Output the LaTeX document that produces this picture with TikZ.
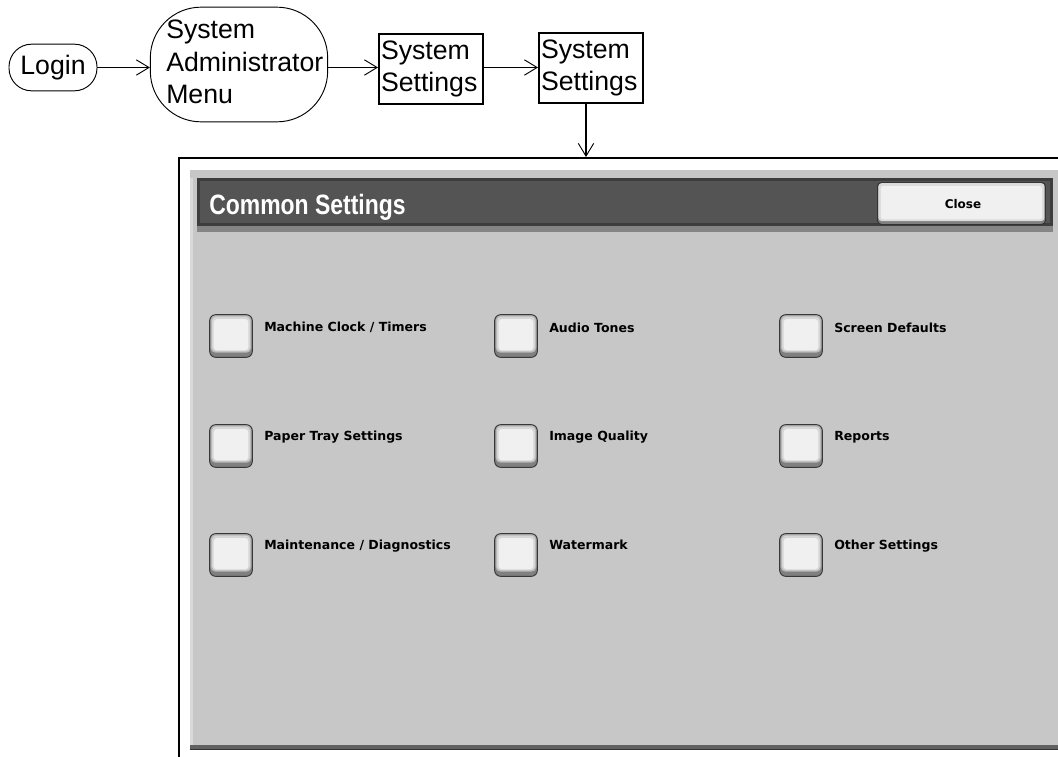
\documentclass[tikz,border=0pt]{standalone}
\usepackage{fontspec}
\setmainfont{Liberation Sans}
\newfontfamily\uifont{DejaVu Sans}
\usetikzlibrary{arrows.meta,positioning}
\definecolor{panelgrey}{gray}{0.78}
\definecolor{bardark}{gray}{0.33}
\definecolor{barrim}{gray}{0.24}
\definecolor{keylight}{gray}{0.94}
\tikzset{
  x=0.75pt,y=-0.75pt,
  flow/.style={draw=black,line width=1.1pt,-{Straight Barb[length=9.5pt,width=11.5pt,line width=0.7pt]}},
  pill/.style={draw=black,line width=0.7pt,align=left,inner sep=0pt,font=\fontsize{20}{24}\selectfont},
  sqbox/.style={draw=black,line width=1.5pt,align=left,inner sep=0pt,font=\fontsize{20}{24.5}\selectfont},
  keyshape/.style={draw=black!78,line width=0.7pt,fill=black!50,rounded corners=4.5pt,minimum width=32pt,minimum height=32pt,inner sep=0pt},
  keyrim/.style={fill=black!28,rounded corners=3.5pt,minimum width=30.5pt,minimum height=28pt,inner sep=0pt},
  keymid/.style={fill=black!16,rounded corners=3pt,minimum width=28.5pt,minimum height=26pt,inner sep=0pt},
  keyface/.style={fill=keylight,rounded corners=2.5pt,minimum width=26pt,minimum height=23.5pt,inner sep=0pt},
  keylabel/.style={anchor=west,inner sep=0pt,text=black,font=\uifont\bfseries\fontsize{9.4}{11}\selectfont},
}
\begin{document}
\begin{tikzpicture}
\useasboundingbox (0,0) rectangle (1058,757);
\clip (0,0) rectangle (1058,757);
\fill[white] (0,0) rectangle (1058,757);
% panel
\node[draw=black,line width=1.5pt,minimum width=660pt,minimum height=600pt,anchor=north west,inner sep=0pt] (panel) at (178,157) {};
\fill[panelgrey] (190,170) rectangle (1058,749);
\fill[black!15] (190,170) rectangle (193,749);
\fill[black!62] (190,745) rectangle (1058,749);
\fill[black!80] (190,749) rectangle (1058,750);
\fill[black!22] (190,170) rectangle (1058,178);
\fill[barrim] (197,178) rectangle (1053,226);
\fill[bardark] (200,181) rectangle (1050,223);
\fill[black!48] (197,226) rectangle (1053,232);
\node[anchor=west,inner sep=0pt,text=white] (title) at (209,207) {\scalebox{0.82}[1]{\fontsize{21}{24}\selectfont\bfseries Common Settings}};
\node[draw=black!80,line width=0.7pt,fill=black!50,rounded corners=3pt,minimum width=126pt,minimum height=31.5pt,inner sep=0pt,anchor=north west] (closekey) at (877,182) {};
\node[fill=black!14,rounded corners=2.5pt,minimum width=124.5pt,minimum height=28.5pt,inner sep=0pt] (closerim) at ([yshift=1pt]closekey.center) {};
\node[fill=keylight,rounded corners=2pt,minimum width=121pt,minimum height=25pt,inner sep=0pt] (closeface) at ([yshift=0.6pt]closekey.center) {};
\node[inner sep=0pt,font=\uifont\bfseries\fontsize{9}{10}\selectfont] (closelabel) at (963,204) {Close};
% keys
\foreach \kx/\ky/\kname/\kup/\ktext in {
  231/336/ka/6.4/{Machine Clock / Timers},
  516/336/kb/6.4/{Audio Tones},
  801/336/kc/6.4/{Screen Defaults},
  231/446/kd/6.4/{Paper Tray Settings},
  516/446/ke/6.4/{Image Quality},
  801/446/kf/6.4/{Reports},
  231/555/kg/6.4/{Maintenance / Diagnostics},
  516/555/kh/8/{Watermark},
  801/555/ki/6.4/{Other Settings}}{
  \node[keyshape] (\kname) at (\kx,\ky) {};
  \node[keyrim] (\kname r) at ([yshift=1.5pt]\kname.center) {};
  \node[keymid] (\kname m) at ([yshift=1.5pt]\kname.center) {};
  \node[keyface] (\kname f) at ([yshift=1pt]\kname.center) {};
  \node[keylabel] (\kname t) at ([xshift=24.75pt,yshift=\kup pt]\kname.center) {\ktext};
}
% flow
\node[pill,rounded corners=17pt,minimum width=66pt,minimum height=35pt] (login) at (53,67.5) {Login};
\node[draw=black,line width=0.7pt,rounded corners=38pt,minimum width=133pt,minimum height=86pt,inner sep=0pt] (admin) at (239,64.5) {};
\node[align=left,inner sep=0pt,font=\fontsize{20}{24}\selectfont,text width=117pt,anchor=west] (admintext) at (166,62) {System\\[0.5pt]Administrator\\[0.5pt]Menu};
\node[sqbox,minimum width=78pt,minimum height=53pt,text width=75pt] (sys1) at (431,69) {System\\Settings};
\node[sqbox,minimum width=78pt,minimum height=53pt,text width=75pt] (sys2) at (591,68) {System\\Settings};
\coordinate (drop) at (586,157);
\draw[flow] (login.east) -- (admin.west |- login.east);
\draw[flow] (admin.east |- login.east) -- (sys1.west |- login.east);
\draw[flow] (sys1.east |- login.east) -- (sys2.west |- login.east);
\draw[flow] (sys2.south -| drop) -- (drop);
\end{tikzpicture}
\end{document}
